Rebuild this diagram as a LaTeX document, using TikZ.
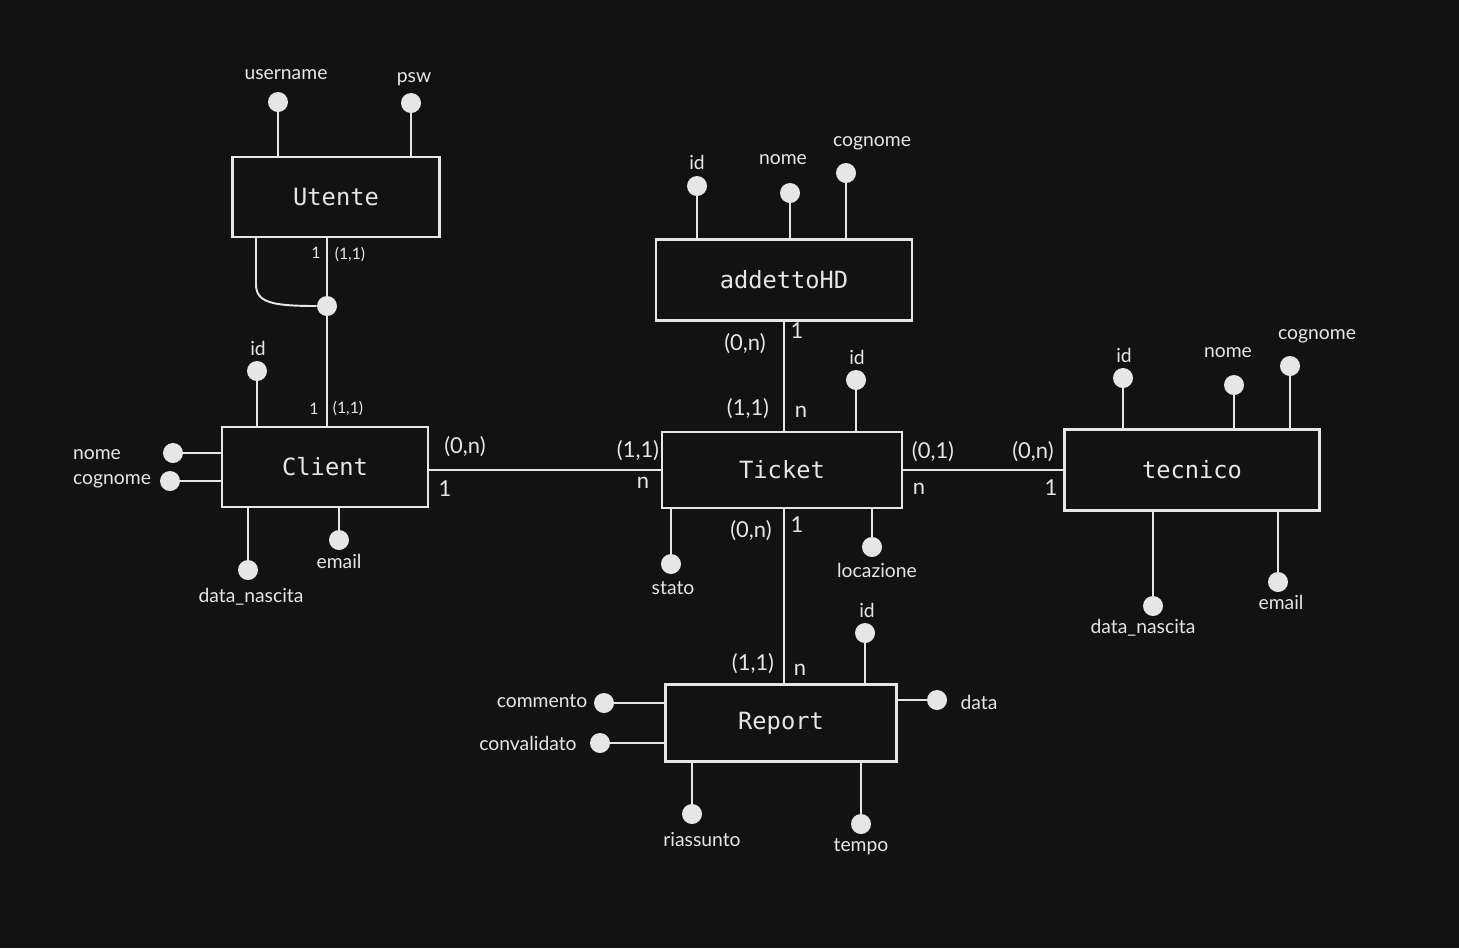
\documentclass[tikz,border=0pt]{standalone}
\usepackage{fontspec}
\setmainfont{Lato}
\setmonofont{DejaVu Sans Mono}
\definecolor{bg}{HTML}{121212}
\definecolor{ink}{HTML}{E6E6E6}
\tikzset{
  entity/.style={draw=ink, line width=1.2pt, fill=bg, text=ink, inner sep=0pt,
    font=\ttfamily\fontsize{13.5}{15}\selectfont},
  dot/.style={circle, fill=ink, minimum size=0.4cm, inner sep=0pt},
  ln/.style={draw=ink, line width=1.1pt},
  lbl/.style={text=ink, inner sep=0pt, font=\fontsize{11}{13}\selectfont},
  card/.style={text=ink, inner sep=0pt, font=\fontsize{12.5}{14}\selectfont},
  smallcard/.style={text=ink, inner sep=0pt, font=\fontsize{9}{10}\selectfont}
}
\begin{document}
\begin{tikzpicture}[x=0.02cm, y=-0.02cm]

\fill[bg] (0,0) rectangle (1459,948);
\useasboundingbox (0,0) rectangle (1459,948);

\node[entity, minimum width=4.14cm, minimum height=1.6cm] (utente) at (336,197) {Utente};
\node[entity, minimum width=5.12cm, minimum height=1.62cm] (addetto) at (784,280) {addettoHD};
\node[entity, minimum width=4.12cm, minimum height=1.6cm] (client) at (325,467) {Client};
\node[entity, minimum width=4.8cm, minimum height=1.52cm] (ticket) at (782,470) {Ticket};
\node[entity, minimum width=5.1cm, minimum height=1.62cm] (tecnico) at (1192,470) {tecnico};
\node[entity, minimum width=4.62cm, minimum height=1.54cm] (report) at (781,723) {Report};

% Utente
\node[dot] (uuser) at (278,102) {};
\node[lbl] (uuserl) at (286,75) {username};
\node[dot] (upsw) at (411,103) {};
\node[lbl] (upswl) at (414,79) {psw};
\draw[ln] (uuser) -- (uuser |- utente.north);
\draw[ln] (upsw) -- (upsw |- utente.north);

% generalizzazione Utente - Client
\node[dot] (isa) at (327,306) {};
\coordinate (isaL) at (256,237);
\draw[ln] (isa |- utente.south) -- (isa) -- (isa |- client.north);
\draw[ln] (isaL) -- (256,284) .. controls (256,302) and (270,306) .. (isa.west);
\node[smallcard] (cu1) at (316,253) {1};
\node[smallcard] (cu2) at (350,255) {(1,1)};
\node[smallcard] (cc1) at (314,409) {1};
\node[smallcard] (cc2) at (348,409) {(1,1)};

% Client
\node[dot] (cid) at (257,371) {};
\node[lbl] (cidl) at (258,348) {id};
\node[dot] (cnome) at (173,453) {};
\node[lbl] (cnomel) at (97,455) {nome};
\node[dot] (ccogn) at (170,481) {};
\node[lbl] (ccognl) at (112,481) {cognome};
\node[dot] (cdata) at (248,570) {};
\node[lbl] (cdatal) at (251,597) {data\_nascita};
\node[dot] (cmail) at (339,540) {};
\node[lbl] (cmaill) at (339,561) {email};
\draw[ln] (cid) -- (cid |- client.north);
\draw[ln] (cnome) -- (cnome -| client.west);
\draw[ln] (ccogn) -- (ccogn -| client.west);
\draw[ln] (cdata) -- (cdata |- client.south);
\draw[ln] (cmail) -- (cmail |- client.south);

% Client - Ticket
\draw[ln] (client.east |- ticket.west) -- (ticket.west);
\node[card] (ct1) at (465,447) {(0,n)};
\node[card] (ct2) at (445,489) {1};
\node[card] (ct3) at (638,451) {(1,1)};
\node[card] (ct4) at (643,483) {n};

% addettoHD
\node[dot] (aid) at (697,186) {};
\node[lbl] (aidl) at (697,162) {id};
\node[dot] (anome) at (790,193) {};
\node[lbl] (anomel) at (783,160) {nome};
\node[dot] (acogn) at (846,173) {};
\node[lbl] (acognl) at (872,143) {cognome};
\draw[ln] (aid) -- (aid |- addetto.north);
\draw[ln] (anome) -- (anome |- addetto.north);
\draw[ln] (acogn) -- (acogn |- addetto.north);

% addettoHD - Ticket
\draw[ln] (addetto.south) -- (addetto.south |- ticket.north);
\node[card] (at1) at (745,344) {(0,n)};
\node[card] (at2) at (797,331) {1};
\node[card] (at3) at (748,409) {(1,1)};
\node[card] (at4) at (801,412) {n};

% Ticket
\node[dot] (tid) at (856,380) {};
\node[lbl] (tidl) at (857,357) {id};
\node[dot] (tstato) at (671,564) {};
\node[lbl] (tstatol) at (673,588) {stato};
\node[dot] (tloc) at (872,547) {};
\node[lbl] (tlocl) at (877,570) {locazione};
\draw[ln] (tid) -- (tid |- ticket.north);
\draw[ln] (tstato) -- (tstato |- ticket.south);
\draw[ln] (tloc) -- (tloc |- ticket.south);

% Ticket - tecnico
\draw[ln] (ticket.east) -- (tecnico.west);
\node[card] (tt1) at (933,452) {(0,1)};
\node[card] (tt2) at (919,489) {n};
\node[card] (tt3) at (1033,452) {(0,n)};
\node[card] (tt4) at (1051,488) {1};

% tecnico
\node[dot] (eid) at (1123,378) {};
\node[lbl] (eidl) at (1124,355) {id};
\node[dot] (enome) at (1234,385) {};
\node[lbl] (enomel) at (1228,353) {nome};
\node[dot] (ecogn) at (1290,366) {};
\node[lbl] (ecognl) at (1317,336) {cognome};
\node[dot] (edata) at (1153,606) {};
\node[lbl] (edatal) at (1143,628) {data\_nascita};
\node[dot] (email) at (1278,582) {};
\node[lbl] (emaill) at (1281,602) {email};
\draw[ln] (eid) -- (eid |- tecnico.north);
\draw[ln] (enome) -- (enome |- tecnico.north);
\draw[ln] (ecogn) -- (ecogn |- tecnico.north);
\draw[ln] (edata) -- (edata |- tecnico.south);
\draw[ln] (email) -- (email |- tecnico.south);

% Ticket - Report
\draw[ln] (ticket.south -| addetto.south) -- (report.north -| addetto.south);
\node[card] (tr1) at (751,531) {(0,n)};
\node[card] (tr2) at (797,525) {1};
\node[card] (tr3) at (753,664) {(1,1)};
\node[card] (tr4) at (800,670) {n};

% Report
\node[dot] (rid) at (865,633) {};
\node[lbl] (ridl) at (867,610) {id};
\node[dot] (rcomm) at (604,703) {};
\node[lbl] (rcomml) at (542,701) {commento};
\node[dot] (rconv) at (600,743) {};
\node[lbl] (rconvl) at (528,743) {convalidato};
\node[dot] (rdata) at (937,700) {};
\node[lbl] (rdatal) at (979,702) {data};
\node[dot] (rrias) at (692,814) {};
\node[lbl] (rriasl) at (702,840) {riassunto};
\node[dot] (rtempo) at (861,824) {};
\node[lbl] (rtempol) at (861,847) {tempo};
\draw[ln] (rid) -- (rid |- report.north);
\draw[ln] (rcomm) -- (rcomm -| report.west);
\draw[ln] (rconv) -- (rconv -| report.west);
\draw[ln] (rdata) -- (rdata -| report.east);
\draw[ln] (rrias) -- (rrias |- report.south);
\draw[ln] (rtempo) -- (rtempo |- report.south);

\end{tikzpicture}
\end{document}
